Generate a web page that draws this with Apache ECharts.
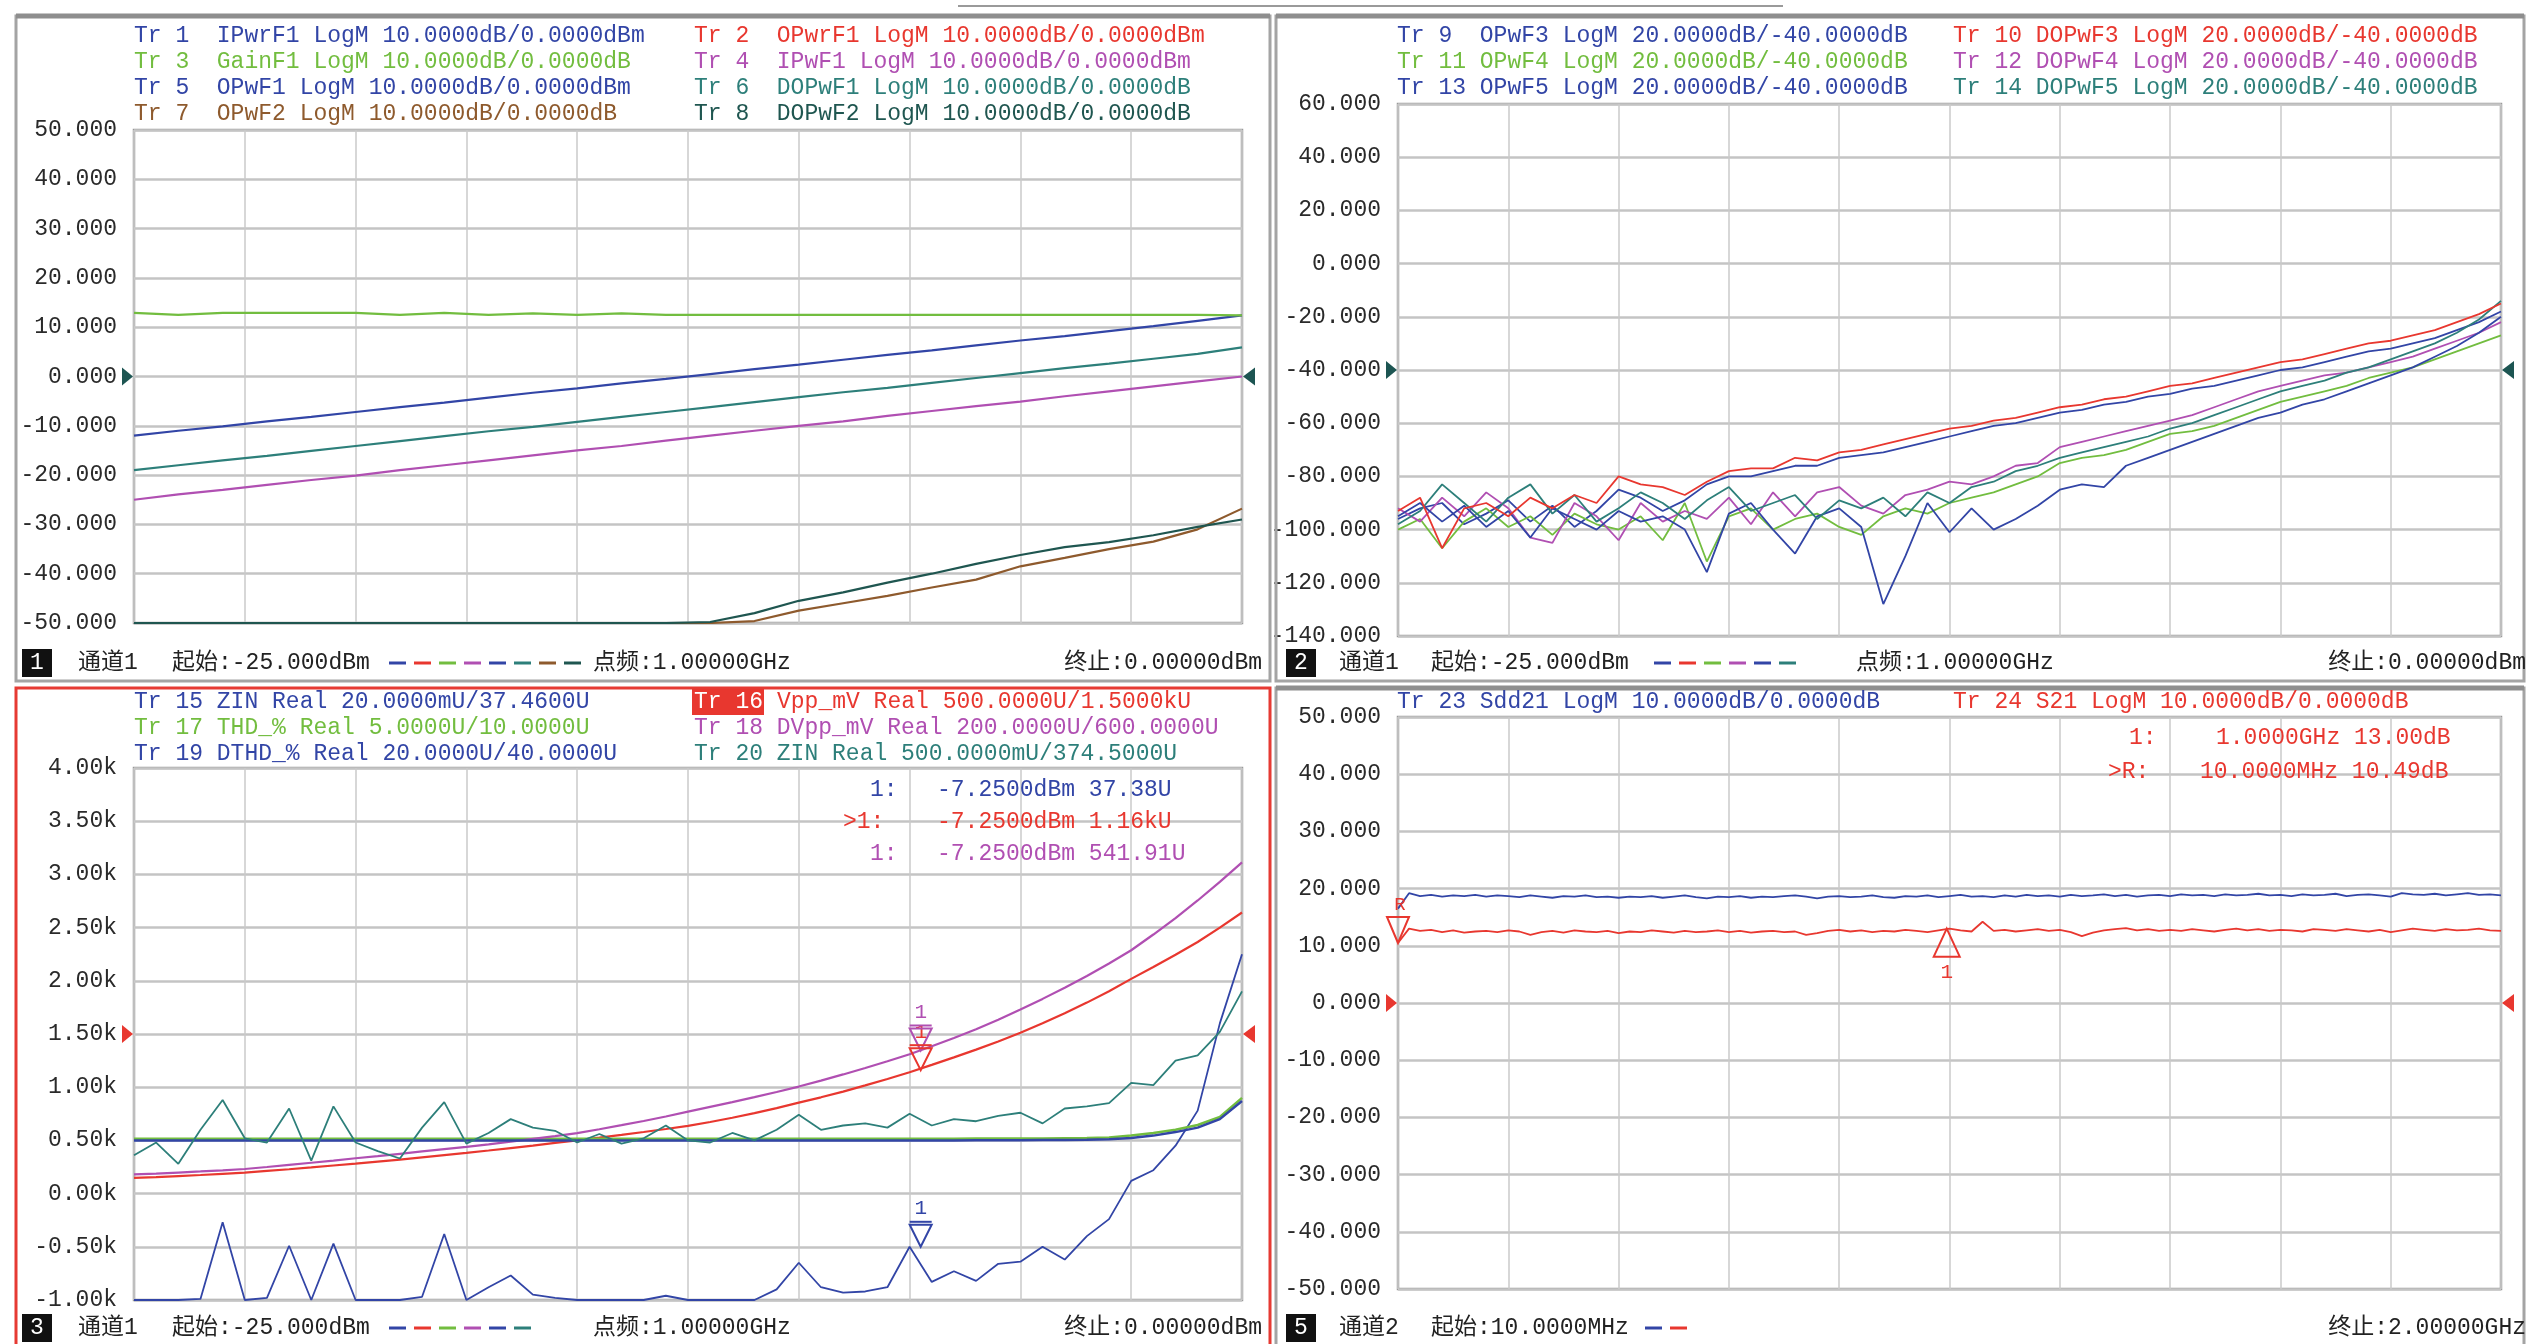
<!DOCTYPE html>
<html><head><meta charset="utf-8">
<script src="https://cdn.jsdelivr.net/npm/echarts@6/dist/echarts.min.js"></script>
<style>html,body{margin:0;padding:0;background:#fff}#c{width:2542px;height:1344px}</style>
</head><body><div id="c"></div>
<script>
// ---------------- DATA ----------------
const power26 = [-25,-24,-23,-22,-21,-20,-19,-18,-17,-16,-15,-14,-13,-12,-11,-10,-9,-8,-7,-6,-5,-4,-3,-2,-1,0];
const power51 = [-25,-24.5,-24,-23.5,-23,-22.5,-22,-21.5,-21,-20.5,-20,-19.5,-19,-18.5,-18,-17.5,-17,-16.5,-16,-15.5,-15,-14.5,-14,-13.5,-13,-12.5,-12,-11.5,-11,-10.5,-10,-9.5,-9,-8.5,-8,-7.5,-7,-6.5,-6,-5.5,-5,-4.5,-4,-3.5,-3,-2.5,-2,-1.5,-1,-0.5,0];
const freqMHz = [10,29.9,49.8,69.7,89.6,109.5,129.4,149.3,169.2,189.1,
209,228.9,248.8,268.7,288.6,308.5,328.4,348.3,368.2,388.1,
408,427.9,447.8,467.7,487.6,507.5,527.4,547.3,567.2,587.1,
607,626.9,646.8,666.7,686.6,706.5,726.4,746.3,766.2,786.1,
806,825.9,845.8,865.7,885.6,905.5,925.4,945.3,965.2,985.1,
1005,1024.9,1044.8,1064.7,1084.6,1104.5,1124.4,1144.3,1164.2,1184.1,
1204,1223.9,1243.8,1263.7,1283.6,1303.5,1323.4,1343.3,1363.2,1383.1,
1403,1422.9,1442.8,1462.7,1482.6,1502.5,1522.4,1542.3,1562.2,1582.1,
1602,1621.9,1641.8,1661.7,1681.6,1701.5,1721.4,1741.3,1761.2,1781.1,
1801,1820.9,1840.8,1860.7,1880.6,1900.5,1920.4,1940.3,1960.2,1980.1,2000];

// Panel 1 (dB)
const p1_IPwrF1 = [-12.0,-11.0,-10.1,-9.1,-8.2,-7.2,-6.2,-5.3,-4.3,-3.3,-2.4,-1.4,-0.5,0.5,1.5,2.4,3.4,4.4,5.3,6.3,7.3,8.2,9.2,10.2,11.3,12.4];
const p1_GainF1 = [12.9,12.5,12.9,12.9,12.9,12.9,12.5,12.9,12.5,12.8,12.5,12.8,12.5,12.5,12.5,12.5,12.5,12.5,12.5,12.5,12.5,12.5,12.5,12.5,12.5,12.4];
const p1_IPwF1  = [-25.0,-23.9,-23.0,-22.0,-21.0,-20.1,-19.0,-18.0,-17.0,-16.0,-15.0,-14.1,-13.0,-12.0,-11.0,-10.0,-9.1,-8.0,-7.0,-6.0,-5.1,-4.0,-3.0,-2.0,-1.0,0.0];
const p1_DOPwF1 = [-19.0,-18.0,-17.0,-16.1,-15.1,-14.1,-13.1,-12.1,-11.1,-10.2,-9.2,-8.2,-7.2,-6.2,-5.2,-4.2,-3.2,-2.3,-1.3,-0.3,0.7,1.7,2.6,3.6,4.6,5.9];
const p1_OPwF2  = [-50,-50,-50,-50,-50,-50,-50,-50,-50,-50,-50,-50,-50,-50,-49.6,-47.5,-46.0,-44.5,-42.8,-41.2,-38.5,-36.8,-35.0,-33.5,-31.0,-26.8];
const p1_DOPwF2 = [-50,-50,-50,-50,-50,-50,-50,-50,-50,-50,-50,-50,-50,-49.8,-48.0,-45.5,-43.8,-41.8,-40.0,-38.0,-36.2,-34.6,-33.6,-32.2,-30.5,-29.0];

// Panel 2 (dB)
const p2_OPwF3  = [-96,-92,-90,-98,-94,-89,-97,-91,-99,-93,-85,-88,-93,-89,-83,-80,-80,-78,-76,-76,-73,-72,-71,-69,-67,-65,-63,-61,-60,-58,-56,-55,-53,-52,-50,-49,-47,-46,-44,-42,-40,-39,-37,-35,-33,-32,-30,-28,-25,-22,-18];
const p2_DOPwF3 = [-93,-88,-107,-92,-90,-95,-88,-92,-87,-90,-80,-83,-84,-87,-82,-78,-77,-77,-73,-74,-71,-70,-68,-66,-64,-62,-61,-59,-58,-56,-54,-53,-51,-50,-48,-46,-45,-43,-41,-39,-37,-36,-34,-32,-30,-29,-27,-25,-22,-19,-15];
const p2_OPwF4  = [-100,-96,-107,-97,-92,-99,-95,-102,-94,-98,-100,-95,-104,-90,-112,-95,-92,-100,-96,-94,-99,-102,-95,-92,-94,-90,-88,-86,-83,-80,-75,-73,-72,-70,-67,-64,-63,-61,-58,-55,-52,-50,-48,-46,-43,-41,-39,-36,-33,-30,-27];
const p2_DOPwF4 = [-92,-97,-88,-95,-86,-92,-103,-105,-90,-95,-104,-90,-97,-93,-96,-88,-98,-86,-95,-86,-84,-91,-94,-87,-85,-82,-83,-80,-76,-75,-69,-67,-65,-63,-61,-59,-57,-54,-51,-48,-46,-44,-42,-41,-39,-37,-35,-32,-29,-26,-22];
const p2_OPwF5  = [-95,-90,-97,-91,-99,-93,-103,-92,-96,-100,-93,-97,-95,-100,-116,-94,-90,-100,-109,-95,-92,-99,-128,-110,-90,-101,-92,-100,-96,-91,-85,-83,-84,-76,-73,-70,-67,-64,-61,-58,-56,-53,-51,-48,-45,-42,-39,-35,-31,-26,-20];
const p2_DOPwF5 = [-98,-93,-83,-90,-97,-88,-83,-94,-87,-97,-92,-86,-90,-96,-89,-84,-93,-90,-87,-96,-89,-92,-88,-95,-86,-90,-84,-82,-78,-76,-73,-71,-69,-67,-65,-62,-60,-57,-54,-51,-48,-46,-44,-41,-39,-36,-33,-30,-26,-21,-14];

// Panel 3 (display units of active trace)
const p3_ZIN15  = [-1000,-1000,-1000,-990,-270,-1000,-980,-490,-1000,-470,-1000,-1000,-1000,-970,-380,-1000,-880,-770,-950,-980,-1000,-1000,-1000,-1000,-960,-1000,-1000,-1000,-1000,-900,-650,-880,-930,-920,-880,-500,-830,-730,-820,-660,-640,-500,-620,-400,-240,120,220,450,780,1600,2250];
const p3_Vpp16  = [147,155,165,175,186,197,213,229,246,264,282,301,320,341,362,383,405,428,451,476,501,526,552,579,607,636,673,713,756,803,855,905,958,1017,1077,1141,1210,1280,1353,1430,1512,1600,1695,1795,1902,2018,2130,2245,2365,2500,2642];
const p3_THD17  = [515,515,515,515,515,515,515,515,515,515,515,515,515,515,515,515,515,515,515,515,515,515,515,515,515,515,515,515,515,515,515,515,515,515,515,515,515,515,518,518,518,518,520,522,528,545,570,600,645,720,900];
const p3_DVpp18 = [180,188,198,208,219,231,250,270,290,310,332,352,374,396,418,440,463,488,514,540,568,605,643,682,725,770,815,860,907,955,1006,1062,1120,1180,1244,1310,1385,1463,1545,1635,1731,1830,1935,2045,2162,2287,2435,2590,2755,2930,3113];
const p3_DTHD19 = [500,500,500,500,500,500,500,500,500,500,500,500,500,500,500,500,500,500,500,500,500,500,500,500,500,500,500,500,500,500,500,500,500,500,500,500,500,500,502,502,502,503,503,505,510,522,545,578,620,700,870];
const p3_ZIN20  = [360,480,280,600,880,520,480,800,310,820,480,400,330,620,860,470,570,700,620,590,480,560,470,520,640,500,480,570,500,600,740,600,640,660,620,750,640,700,680,730,760,660,800,820,850,1040,1020,1250,1300,1520,1900];

// Panel 4 (dB)
const p4_Sdd21 = [16.5,19.2,18.7,18.9,18.6,18.8,18.7,18.9,18.6,18.8,
18.7,18.5,18.8,18.6,18.4,18.7,18.6,18.8,18.5,18.6,
18.4,18.6,18.5,18.7,18.4,18.6,18.8,18.5,18.3,18.6,
18.5,18.7,18.4,18.6,18.5,18.7,18.8,18.6,18.3,18.6,
18.7,18.5,18.6,18.8,18.5,18.4,18.7,18.6,18.8,18.5,
18.7,18.9,18.6,18.7,18.5,18.8,18.6,18.9,18.7,18.8,
18.6,18.9,18.7,18.8,19.0,18.7,18.9,18.6,18.8,18.9,
18.7,19.0,18.8,18.9,18.7,19.0,18.8,18.9,19.1,18.8,
18.9,18.7,19.0,18.8,18.9,19.1,18.7,18.9,19.0,18.8,
18.6,19.2,19.0,18.9,19.1,18.8,19.0,19.2,18.9,19.0,18.8];
const p4_S21 = [10.49,13.0,12.6,12.8,12.4,12.7,12.3,12.5,12.6,12.4,
12.7,12.5,11.9,12.4,12.6,12.3,12.7,12.5,12.4,12.6,
12.2,12.5,12.4,12.7,12.5,12.3,12.6,12.4,12.5,12.7,
12.4,12.6,12.3,12.5,12.6,12.4,12.5,11.9,12.2,12.6,
12.8,12.5,12.7,12.4,12.6,12.5,12.8,12.6,12.4,12.7,
13.0,12.7,12.5,14.2,12.6,12.8,12.5,12.7,12.9,12.6,
12.8,12.4,11.7,12.3,12.7,12.9,13.1,12.7,12.9,12.6,
12.8,12.6,12.9,12.7,12.5,12.8,13.0,12.7,12.9,12.6,
12.8,12.7,12.5,12.9,12.8,12.6,12.9,12.7,12.5,12.8,
12.4,12.7,13.0,12.8,12.6,12.9,12.7,12.8,13.0,12.7,12.6];

// Markers and readouts
const p3Markers = [ {x:-7.25, y:1345, c:'magenta', label:'1'}, {x:-7.25, y:1160, c:'red', label:'1'}, {x:-7.25, y:-500, c:'blue', label:'1'} ];
const p4Markers = [ {x:1000, y:13.0, c:'red', label:'1', dir:'up'}, {x:10, y:10.49, c:'red', label:'R', dir:'down'} ];
const refLevels = [0, -40, 1500, 0];

// Texts
const headers = [
  [[134,36,'Tr 1  IPwrF1 LogM 10.0000dB/0.0000dBm','blue'],[694,36,'Tr 2  OPwrF1 LogM 10.0000dB/0.0000dBm','red'],
   [134,62,'Tr 3  GainF1 LogM 10.0000dB/0.0000dB','green'],[694,62,'Tr 4  IPwF1 LogM 10.0000dB/0.0000dBm','magenta'],
   [134,88,'Tr 5  OPwF1 LogM 10.0000dB/0.0000dBm','blue'],[694,88,'Tr 6  DOPwF1 LogM 10.0000dB/0.0000dB','teal'],
   [134,114,'Tr 7  OPwF2 LogM 10.0000dB/0.0000dB','brown'],[694,114,'Tr 8  DOPwF2 LogM 10.0000dB/0.0000dB','darkteal']],
  [[1397,36,'Tr 9  OPwF3 LogM 20.0000dB/-40.0000dB','blue'],[1953,36,'Tr 10 DOPwF3 LogM 20.0000dB/-40.0000dB','red'],
   [1397,62,'Tr 11 OPwF4 LogM 20.0000dB/-40.0000dB','green'],[1953,62,'Tr 12 DOPwF4 LogM 20.0000dB/-40.0000dB','magenta'],
   [1397,88,'Tr 13 OPwF5 LogM 20.0000dB/-40.0000dB','blue'],[1953,88,'Tr 14 DOPwF5 LogM 20.0000dB/-40.0000dB','teal']],
  [[134,702,'Tr 15 ZIN Real 20.0000mU/37.4600U','blue'],[777,702,'Vpp_mV Real 500.0000U/1.5000kU','red'],
   [134,728,'Tr 17 THD_% Real 5.0000U/10.0000U','green'],[694,728,'Tr 18 DVpp_mV Real 200.0000U/600.0000U','magenta'],
   [134,754,'Tr 19 DTHD_% Real 20.0000U/40.0000U','blue'],[694,754,'Tr 20 ZIN Real 500.0000mU/374.5000U','teal']],
  [[1397,702,'Tr 23 Sdd21 LogM 10.0000dB/0.0000dB','blue'],[1953,702,'Tr 24 S21 LogM 10.0000dB/0.0000dB','red']]
];
const readouts = [
  [870,790,'1:','blue'],[937,790,'-7.2500dBm 37.38U','blue'],
  [843,822,'>1:','red'],[937,822,'-7.2500dBm 1.16kU','red'],
  [870,854,'1:','magenta'],[937,854,'-7.2500dBm 541.91U','magenta'],
  [2129,738,'1:','red'],[2216,738,'1.0000GHz 13.00dB','red'],
  [2108,772,'>R:','red'],[2200,772,'10.0000MHz 10.49dB','red']
];
const footers = [
  {y:663, x0:22, num:'1', ch:'通道1', chx:78, start:'起始:-25.000dBm', sx:172, dashX:389, dashes:['blue','red','green','magenta','blue','teal','brown','darkteal'], cw:'点频:1.00000GHz', cwx:593, stop:'终止:0.00000dBm', stopX:1262},
  {y:663, x0:1286, num:'2', ch:'通道1', chx:1339, start:'起始:-25.000dBm', sx:1431, dashX:1654, dashes:['blue','red','green','magenta','blue','teal'], cw:'点频:1.00000GHz', cwx:1856, stop:'终止:0.00000dBm', stopX:2526},
  {y:1328, x0:22, num:'3', ch:'通道1', chx:78, start:'起始:-25.000dBm', sx:172, dashX:389, dashes:['blue','red','green','magenta','blue','teal'], cw:'点频:1.00000GHz', cwx:593, stop:'终止:0.00000dBm', stopX:1262},
  {y:1328, x0:1286, num:'5', ch:'通道2', chx:1339, start:'起始:10.0000MHz', sx:1431, dashX:1645, dashes:['blue','red'], cw:'', cwx:0, stop:'终止:2.00000GHz', stopX:2526}
];

// ---------------- STYLE ----------------
const C = {blue:'#3245a6', red:'#e8372f', green:'#72bd3f', magenta:'#b04fb2', teal:'#2d7f7a', brown:'#8e5a2d', darkteal:'#1f5650', refTeal:'#1d5552'};
const FONT = '23px "Liberation Mono", "Noto Sans CJK SC", monospace';
const grids = [
  {left:134, top:130, width:1108, height:493},
  {left:1398, top:104, width:1103, height:532},
  {left:134, top:768, width:1108, height:532},
  {left:1398, top:717, width:1103, height:572}
];
const yDefs = [
  {min:-50, max:50, interval:10, fmt:v=>v.toFixed(3)},
  {min:-140, max:60, interval:20, fmt:v=>v.toFixed(3)},
  {min:-1000, max:4000, interval:500, fmt:v=>(v/1000).toFixed(2)+'k'},
  {min:-50, max:50, interval:10, fmt:v=>v.toFixed(3)}
];
const xDefs = [{min:-25,max:0},{min:-25,max:0},{min:-25,max:0},{min:10,max:2000}];

const xAxis = [], yAxis = [];
grids.forEach((g,k)=>{
  xAxis.push({gridIndex:k, type:'value', min:xDefs[k].min, max:xDefs[k].max, show:false});
  xAxis.push({gridIndex:k, type:'value', min:0, max:10, interval:1, axisLine:{show:false}, axisTick:{show:false}, axisLabel:{show:false},
    splitLine:{show:true, lineStyle:{color:'#cacaca', width:1.5}}});
  yAxis.push({gridIndex:k, type:'value', min:yDefs[k].min, max:yDefs[k].max, interval:yDefs[k].interval,
    axisLine:{show:false}, axisTick:{show:false},
    axisLabel:{formatter:yDefs[k].fmt, fontFamily:'"Liberation Mono", monospace', fontSize:23, color:'#2a2a2a', margin:17, showMinLabel:true, showMaxLabel:true},
    splitLine:{show:true, lineStyle:{color:'#c4c4c4', width:2.5}}});
});

function ser(k, xs, ys, color, w){
  return {type:'line', xAxisIndex:2*k, yAxisIndex:k, data: xs.map((x,i)=>[x, ys[i]]), showSymbol:false, symbol:'none',
    lineStyle:{color, width:w||2.2}, itemStyle:{color}, animation:false, silent:true};
}
const series = [
  ser(0, power26, p1_IPwrF1, C.blue),
  ser(0, power26, p1_GainF1, C.green),
  ser(0, power26, p1_IPwF1, C.magenta),
  ser(0, power26, p1_DOPwF1, C.teal),
  ser(0, power26, p1_OPwF2, C.brown),
  ser(0, power26, p1_DOPwF2, C.darkteal),
  ser(1, power51, p2_OPwF3, C.blue, 1.8),
  ser(1, power51, p2_OPwF4, C.green, 1.8),
  ser(1, power51, p2_DOPwF4, C.magenta, 1.8),
  ser(1, power51, p2_OPwF5, C.blue, 1.8),
  ser(1, power51, p2_DOPwF5, C.teal, 1.8),
  ser(1, power51, p2_DOPwF3, C.red, 1.8),
  ser(2, power51, p3_ZIN15, C.blue, 1.8),
  ser(2, power51, p3_Vpp16, C.red),
  ser(2, power51, p3_THD17, C.green, 2.5),
  ser(2, power51, p3_DVpp18, C.magenta),
  ser(2, power51, p3_DTHD19, C.blue, 2.5),
  ser(2, power51, p3_ZIN20, C.teal, 1.8),
  ser(3, freqMHz, p4_Sdd21, C.blue, 1.8),
  ser(3, freqMHz, p4_S21, C.red, 1.8)
];

function txt(x, y, s, color, align, font){
  return {type:'text', x:x, y:y, silent:true, z:50,
    style:{text:s, fill:color, font:font||FONT, align:align||'left', verticalAlign:'middle', textAlign:align||'left', textVerticalAlign:'middle'}};
}
const G = [];
// frames
G.push({type:'line', shape:{x1:958,y1:6,x2:1783,y2:6}, style:{stroke:'#9a9a9a', lineWidth:2}, z:1});
[[16,16,1254,665,'#a4a4a4'],[1276,16,1248,665,'#a4a4a4'],[1276,688,1248,660,'#a4a4a4']].forEach(r=>{
  G.push({type:'rect', shape:{x:r[0],y:r[1],width:r[2],height:r[3]}, style:{fill:'none', stroke:r[4], lineWidth:3}, z:1});
  G.push({type:'line', shape:{x1:r[0],y1:r[1],x2:r[0]+r[2],y2:r[1]}, style:{stroke:'#8e8e8e', lineWidth:5}, z:2});
});
G.push({type:'rect', shape:{x:16,y:688,width:1254,height:660}, style:{fill:'none', stroke:'#e63a33', lineWidth:3}, z:3});
// headers
headers.forEach(p=>p.forEach(h=>G.push(txt(h[0],h[1],h[2],C[h[3]]))));
G.push({type:'rect', shape:{x:692,y:689,width:72,height:26}, style:{fill:'#e8372f'}, z:40});
G.push(txt(694,702,'Tr 16','#ffffff'));
// readouts
readouts.forEach(r=>G.push(txt(r[0],r[1],r[2],C[r[3]])));
// footers
footers.forEach(f=>{
  G.push({type:'rect', shape:{x:f.x0,y:f.y-14,width:30,height:28}, style:{fill:'#111'}, z:40});
  G.push(txt(f.x0+15,f.y,f.num,'#ffffff','center'));
  G.push(txt(f.chx,f.y,f.ch,'#222'));
  G.push(txt(f.sx,f.y,f.start,'#222'));
  f.dashes.forEach((c,i)=>G.push({type:'line', shape:{x1:f.dashX+i*25,y1:f.y,x2:f.dashX+i*25+17,y2:f.y}, style:{stroke:C[c], lineWidth:3}, z:40}));
  if(f.cw) G.push(txt(f.cwx,f.y,f.cw,'#222'));
  G.push(txt(f.stopX,f.y,f.stop,'#222','right'));
});

const chart = echarts.init(document.getElementById('c'), null, {width:2542, height:1344});
chart.setOption({
  animation:false, backgroundColor:'#ffffff',
  grid: grids.map(g=>Object.assign({show:true, borderColor:'#9a9a9a', borderWidth:2.5, backgroundColor:'#fff', containLabel:false}, g)),
  xAxis, yAxis, series, graphic: G
});

// scale-based annotations
const P = (k,x,y)=>chart.convertToPixel({xAxisIndex:2*k, yAxisIndex:k},[x,y]);
const A = [];
refLevels.forEach((lv,k)=>{
  const col = k<2 ? C.refTeal : C.red;
  const l = P(k, xDefs[k].min, lv), r = P(k, xDefs[k].max, lv);
  A.push({type:'polygon', shape:{points:[[l[0]-1,l[1]],[l[0]-12,l[1]-9],[l[0]-12,l[1]+9]]}, style:{fill:col}, z:60});
  A.push({type:'polygon', shape:{points:[[r[0]+1,r[1]],[r[0]+13,r[1]-9],[r[0]+13,r[1]+9]]}, style:{fill:col}, z:60});
});
p3Markers.forEach(m=>{
  const [cx,cy] = P(2,m.x,m.y);
  A.push({type:'polygon', shape:{points:[[cx,cy],[cx-11,cy-22],[cx+11,cy-22]]}, style:{fill:'none', stroke:C[m.c], lineWidth:2}, z:60});
  A.push({type:'line', shape:{x1:cx-11,y1:cy-25,x2:cx+11,y2:cy-25}, style:{stroke:C[m.c], lineWidth:2}, z:60});
  A.push(txt(cx, cy-38, m.label, C[m.c], 'center', '21px "Liberation Mono", monospace'));
});
p4Markers.forEach(m=>{
  const [cx,cy] = P(3,m.x,m.y);
  const col = C[m.c];
  if(m.dir==='up'){
    A.push({type:'polygon', shape:{points:[[cx,cy],[cx-13,cy+28],[cx+13,cy+28]]}, style:{fill:'none', stroke:col, lineWidth:2}, z:60});
    A.push(txt(cx, cy+44, m.label, col, 'center', '21px "Liberation Mono", monospace'));
  } else {
    A.push({type:'polygon', shape:{points:[[cx,cy],[cx-11,cy-26],[cx+11,cy-26]]}, style:{fill:'none', stroke:col, lineWidth:2}, z:60});
    A.push(txt(cx+2, cy-38, m.label, col, 'center', '19px "Liberation Mono", monospace'));
  }
});
chart.setOption({graphic: G.concat(A)});
</script></body></html>
